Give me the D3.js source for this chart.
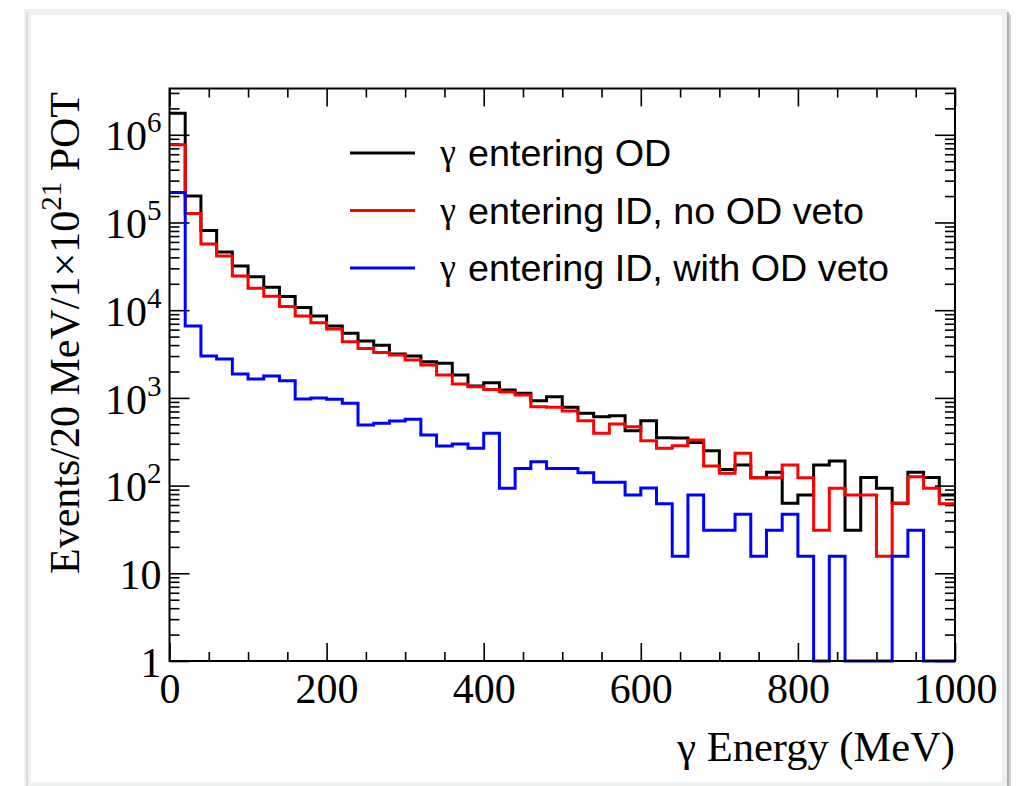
<!DOCTYPE html>
<html><head><meta charset="utf-8">
<script src="https://cdn.jsdelivr.net/npm/d3@7/dist/d3.min.js"></script>
<style>body{margin:0;background:#fff;} svg{display:block}</style>
</head><body>
<svg id="c" width="1023" height="786"></svg>
<script>
// ---- data ----
const binLowEdges = [0,20,40,60,80,100,120,140,160,180,200,220,240,260,280,300,320,340,360,380,
  400,420,440,460,480,500,520,540,560,580,600,620,640,660,680,700,720,740,760,780,
  800,820,840,860,880,900,920,940,960,980];
const binUpperEdge = 1000;
const gammaOD = [1.76e6,2.0e5,8.1e4,4.6e4,3.2e4,2.4e4,1.82e4,1.43e4,1.07e4,8600,
  6600,5450,4450,3970,3160,3000,2590,2480,1820,1370,
  1490,1230,1130,930,1030,780,667,611,627,422,
  550,352,350,310,250,153,172,123,142,63,
  78,172,191,31,124,93,63,142,124,78];
const gammaIDnoVeto = [7.7e5,1.27e5,5.7e4,4.15e4,2.45e4,1.78e4,1.44e4,1.1e4,8600,7200,
  6100,4370,3650,3300,3080,2700,2370,1820,1440,1340,
  1250,1170,1080,795,780,710,550,395,504,470,
  325,266,285,331,167,138,233,123,123,172,
  123,31,93,78,78,15.6,63,126,93,62];
const gammaIDwithVeto = [2.19e5,6600,3000,2780,1870,1640,1780,1570,970,1000,
  964,867,491,513,545,570,378,283,298,266,
  395,93,157,187,157,157,140,109,109,78,
  94,62,15.6,78,31,31,47,15.6,31,47,
  15.6,0,15.6,0,0,0,15.6,31,0,0];
const seriesNames = ["entering OD","entering ID, no OD veto","entering ID, with OD veto"];
const seriesColors = ["#000000","#ff0000","#0000ff"];
const xTickMajor = [0,200,400,600,800,1000];
const xTickLabels = ["0","200","400","600","800","1000"];
const yDecades = [1,10,100,1e3,1e4,1e5,1e6];
const yTickLabels = [["1",""],["10",""],["10","2"],["10","3"],["10","4"],["10","5"],["10","6"]];
const yMax = 3.37e6, yMin = 1;

// ---- layout ----
const svg = d3.select("#c");
const L = 169.5, R = 955, T = 88.5, B = 661;

// card background
svg.append("rect").attr("x",0).attr("y",0).attr("width",1023).attr("height",786).attr("fill","#ffffff");
svg.append("rect").attr("x",24).attr("y",9).attr("width",984).attr("height",790).attr("fill","#eef1f1");
svg.append("rect").attr("x",1007).attr("y",12).attr("width",2).attr("height",790).attr("fill","#b0b0b0");
svg.append("rect").attr("x",1009).attr("y",14).attr("width",2).attr("height",790).attr("fill","#d4d4d4");
svg.append("rect").attr("x",26).attr("y",12).attr("width",2).attr("height",790).attr("fill","#d8dbdb");
svg.append("rect").attr("x",31).attr("y",15).attr("width",971).attr("height",767).attr("fill","#ffffff");

const x = d3.scaleLinear().domain([0,1000]).range([L,R]);
const y = d3.scaleLog().domain([yMin,yMax]).range([B,T]);

const serif = "'Liberation Serif','Times New Roman',serif";
const sans = "'Liberation Sans',Arial,Helvetica,sans-serif";

// minor ticks
const xMinor = d3.range(0,1001,50).filter(v=>!xTickMajor.includes(v));
const yMinor = [];
yDecades.forEach(d=>{ for(let m=2;m<=9;m++){ if(m*d<=yMax) yMinor.push(m*d);} });

function styleAxis(g){
  g.select(".domain").remove();
  g.selectAll(".tick line").attr("stroke","#000").attr("stroke-width",1.6);
}
// bottom
svg.append("g").attr("transform",`translate(0,${B})`)
  .call(d3.axisBottom(x).tickValues(xMinor).tickSize(-9).tickFormat("")).call(styleAxis);
const gxb = svg.append("g").attr("transform",`translate(0,${B})`)
  .call(d3.axisBottom(x).tickValues(xTickMajor).tickSize(-18).tickPadding(12)
    .tickFormat((d,i)=>xTickLabels[i])).call(styleAxis);
gxb.selectAll("text").attr("font-family",serif).attr("font-size",42).attr("fill","#000");
// top
svg.append("g").attr("transform",`translate(0,${T})`)
  .call(d3.axisTop(x).tickValues(xMinor).tickSize(-9).tickFormat("")).call(styleAxis);
svg.append("g").attr("transform",`translate(0,${T})`)
  .call(d3.axisTop(x).tickValues(xTickMajor).tickSize(-18).tickFormat("")).call(styleAxis);
// left
svg.append("g").attr("transform",`translate(${L},0)`)
  .call(d3.axisLeft(y).tickValues(yMinor).tickSize(-10).tickFormat("")).call(styleAxis);
const gyl = svg.append("g").attr("transform",`translate(${L},0)`)
  .call(d3.axisLeft(y).tickValues(yDecades).tickSize(-20).tickPadding(8).tickFormat("")).call(styleAxis);
gyl.selectAll(".tick text").each(function(d,i){
  const t = d3.select(this).attr("font-family",serif).attr("font-size",42).attr("fill","#000").attr("dy","0.36em");
  t.append("tspan").text(yTickLabels[i][0]);
  if(yTickLabels[i][1]) t.append("tspan").attr("font-size",29).attr("dy","-0.62em").text(yTickLabels[i][1]);
});
// right
svg.append("g").attr("transform",`translate(${R},0)`)
  .call(d3.axisRight(y).tickValues(yMinor).tickSize(-10).tickFormat("")).call(styleAxis);
svg.append("g").attr("transform",`translate(${R},0)`)
  .call(d3.axisRight(y).tickValues(yDecades).tickSize(-20).tickFormat("")).call(styleAxis);

// histograms
const line = d3.line().x(d=>x(d[0])).y(d=>y(Math.max(d[1],yMin))).curve(d3.curveStepAfter);
[gammaOD, gammaIDnoVeto, gammaIDwithVeto].forEach((vals,si)=>{
  const pts = binLowEdges.map((e,i)=>[e, vals[i]]);
  pts.push([binUpperEdge, vals[vals.length-1]]);
  svg.append("path").attr("d",line(pts)).attr("fill","none")
    .attr("stroke",seriesColors[si]).attr("stroke-width",3).attr("stroke-linejoin","miter");
});

// frame
svg.append("rect").attr("x",L).attr("y",T).attr("width",R-L).attr("height",B-T)
  .attr("fill","none").attr("stroke","#000").attr("stroke-width",2);

// axis titles
const xt = svg.append("text").attr("x",R).attr("y",761).attr("text-anchor","end")
  .attr("font-family",serif).attr("font-size",42.5).attr("fill","#000");
xt.text("γ Energy (MeV)");
const yt = svg.append("text").attr("transform","translate(79,92) rotate(-90)").attr("text-anchor","end")
  .attr("font-family",serif).attr("font-size",42).attr("fill","#000");
yt.append("tspan").text("Events/20 MeV/1×10");
yt.append("tspan").attr("font-size",29).attr("dy","-0.62em").text("21");
yt.append("tspan").attr("dy","0.43em").text(" POT");

// legend
const legY = [153,210.5,268];
seriesNames.forEach((n,i)=>{
  svg.append("line").attr("x1",350).attr("x2",415).attr("y1",legY[i]).attr("y2",legY[i])
    .attr("stroke",seriesColors[i]).attr("stroke-width",3);
  svg.append("text").attr("x",440).attr("y",legY[i]+11).attr("font-family",serif).attr("font-size",36).text("γ");
  svg.append("text").attr("x",468).attr("y",legY[i]+13).attr("font-family",sans).attr("font-size",37.7).text(n);
});
</script>
</body></html>
